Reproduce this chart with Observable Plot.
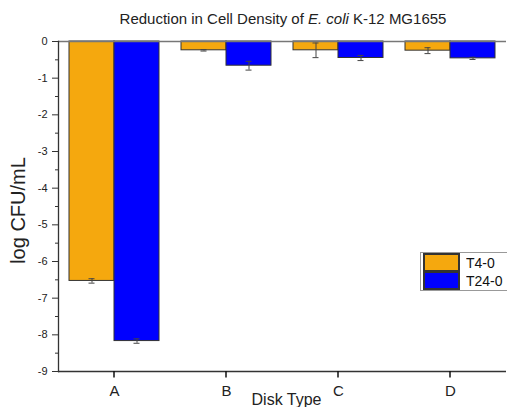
<!DOCTYPE html>
<html><head><meta charset="utf-8">
<script src="https://cdn.jsdelivr.net/npm/d3@7"></script>
<script src="https://cdn.jsdelivr.net/npm/@observablehq/plot@0.6"></script>
<style>
body{margin:0;background:#fff;font-family:"Liberation Sans",Arial,sans-serif}
#wrap{position:relative;width:507px;height:407px;overflow:hidden}
#legend{position:absolute;left:420px;top:252px;border:1px solid #999;background:#fff;padding:1px 30px 0 3px;color:#111;margin:0}
#legend, #legend *{font-size:14px !important;font-family:"Liberation Sans",Arial,sans-serif !important}
#legend svg rect{stroke:#333;stroke-width:2px}
</style></head><body><div id="wrap"></div>
<script>
const categories = ["A", "B", "C", "D"];
const series = ["T4-0", "T24-0"];
const t4Values = [-6.53, -0.24, -0.24, -0.25];
const t24Values = [-8.17, -0.66, -0.45, -0.46];
const t4Errors = [0.06, 0.02, 0.2, 0.08];
const t24Errors = [0.06, 0.12, 0.07, 0.03];
const seriesColors = ["#f5a80e", "#0000ff"];
const yMajorTicks = [0, -1, -2, -3, -4, -5, -6, -7, -8, -9];
const yMinorTicks = [-0.5, -1.5, -2.5, -3.5, -4.5, -5.5, -6.5, -7.5, -8.5];

const rows = categories.flatMap((c, i) => [
  {cat: c, s: series[0], v: t4Values[i], e: t4Errors[i]},
  {cat: c, s: series[1], v: t24Values[i], e: t24Errors[i]}
]);

const ink = "#222";
const chart = Plot.plot({
  width: 507, height: 407,
  marginTop: 41, marginBottom: 36, marginLeft: 57, marginRight: 0,
  style: {fontFamily: "Liberation Sans, Arial, sans-serif", background: "white", color: ink, overflow: "visible"},
  fx: {domain: categories, padding: 0, label: null},
  x: {domain: series, paddingInner: 0, paddingOuter: 0.243, axis: null},
  y: {domain: [-9, 0], label: null},
  color: {domain: series, range: seriesColors},
  marks: [
    Plot.barY(rows, {fx: "cat", x: "s", y: "v", fill: "s", stroke: "#333", strokeWidth: 1}),
    Plot.ruleX(rows, {fx: "cat", x: "s", y1: d => d.v - d.e, y2: d => d.v + d.e, stroke: "#444", strokeWidth: 1}),
    Plot.tickY(rows, {fx: "cat", x: "s", y: d => d.v - d.e, stroke: "#444", strokeWidth: 1, insetLeft: 19.5, insetRight: 19.5}),
    Plot.tickY(rows, {fx: "cat", x: "s", y: d => d.v + d.e, stroke: "#444", strokeWidth: 1, insetLeft: 19.5, insetRight: 19.5}),
    Plot.ruleY([0], {stroke: "#777", strokeWidth: 1.3}),
    Plot.ruleY([-9], {stroke: "#333", strokeWidth: 1.3}),
    Plot.frame({anchor: "left", facet: "super", stroke: "#333", strokeWidth: 1.3}),
    Plot.axisY({ticks: yMajorTicks, tickSize: 6, tickPadding: 5, tickFormat: d => String(d), fontSize: 11, label: null, stroke: "#333"}),
    Plot.axisY({ticks: yMinorTicks, tickSize: 3, fill: null, label: null, stroke: "#333"}),
    Plot.axisFx({anchor: "bottom", tickSize: 0, tickPadding: 13.5, fontSize: 15, label: null}),
    Plot.text(["log CFU/mL"], {frameAnchor: "left", textAnchor: "middle", rotate: -90, dx: -39.5, dy: 4, fontSize: 20, fill: ink, facet: "super"}),
    Plot.text(["Disk Type"], {frameAnchor: "bottom", dy: 33, dx: 4, fontSize: 16, fill: ink, facet: "super"})
  ]
});

const svg = d3.select(chart);
// x-axis tick marks at the category centres, positioned with Plot's own fx and y scales
const fx = chart.scale("fx");
const y = chart.scale("y");
const yBottom = y.apply(-9);
svg.append("g").attr("stroke", "#111").attr("stroke-width", 1.5)
  .selectAll("line").data(categories).join("line")
  .attr("x1", c => fx.apply(c) + fx.bandwidth / 2)
  .attr("x2", c => fx.apply(c) + fx.bandwidth / 2)
  .attr("y1", yBottom)
  .attr("y2", yBottom + 6.5);

const title = svg.append("text")
  .attr("x", 283).attr("y", 24)
  .attr("text-anchor", "middle")
  .attr("font-size", 15)
  .attr("fill", ink)
  .attr("font-family", "Liberation Sans, Arial, sans-serif");
title.append("tspan").text("Reduction in Cell Density of ");
title.append("tspan").attr("font-style", "italic").text("E. coli");
title.append("tspan").text(" K-12 MG1655");

const wrap = document.getElementById("wrap");
wrap.appendChild(chart);

const legend = Plot.legend({
  color: {domain: series, range: seriesColors},
  legend: "swatches", columns: 1, swatchWidth: 35, swatchHeight: 17
});
legend.id = "legend";
wrap.appendChild(legend);
</script></body></html>
